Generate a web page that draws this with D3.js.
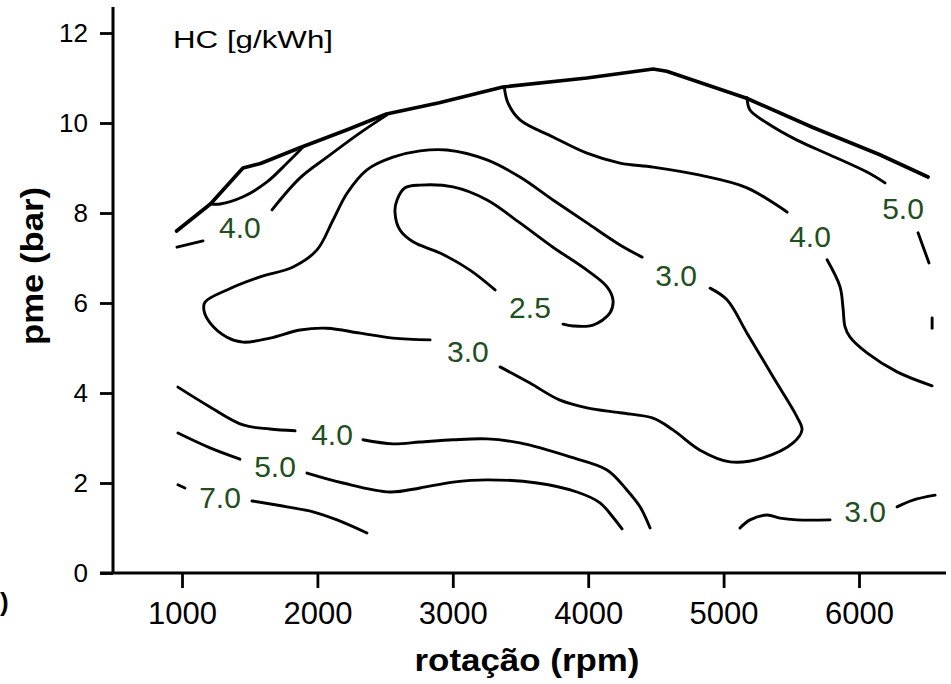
<!DOCTYPE html>
<html>
<head>
<meta charset="utf-8">
<script src="https://cdn.jsdelivr.net/npm/d3@7"></script>
<style>
  body { margin: 0; background: #fff; }
  svg { display: block; font-family: "Liberation Sans", Arial, sans-serif; }
</style>
</head>
<body>
<div id="chart"></div>
<script>
// ticks
const xTicks = [1000, 2000, 3000, 4000, 5000, 6000];
const yTicks = [0, 2, 4, 6, 8, 10, 12];

// full load line [rpm, pme]
const fullLoad = [[960,7.6],[1210,8.2],[1450,9.0],[1580,9.1],[1870,9.45],[2220,9.85],[2510,10.2],
  [2900,10.45],[3370,10.8],[3990,11.0],[4480,11.2],[4580,11.15],[5170,10.55],[5660,9.9],[6150,9.3],[6510,8.8]];

// contour pieces (broken where the labels sit)
const hc50Left = [[1210,8.2],[1281,8.2],[1451,8.36],[1628,8.69],[1776,9.11],[1872,9.4],[1894,9.47]];
const hc40LeftA = [[963,7.24],[1155,7.38]];
const hc40LeftB = [[1665,8.07],[1872,8.78],[2071,9.24],[2315,9.78],[2514,10.18]];
const hc30A = [[4398,7.02],[4235,7.29],[3991,7.78],[3740,8.29],[3496,8.8],[3253,9.18],[2957,9.4],[2758,9.38],
  [2558,9.24],[2366,8.96],[2219,8.44],[2115,7.84],[1997,7.18],[1820,6.8],[1576,6.58],[1332,6.29],[1170,6.02],
  [1162,5.84],[1207,5.56],[1332,5.24],[1451,5.13],[1650,5.22],[1872,5.4],[2071,5.44],[2315,5.33],[2558,5.22],[2832,5.18]];
const hc30B = [[3349,4.58],[3570,4.22],[3792,3.84],[3991,3.67],[4235,3.56],[4479,3.44],[4626,3.18],[4826,2.73],
  [5048,2.47],[5291,2.56],[5513,2.89],[5579,3.18],[5542,3.47],[5365,4.36],[5173,5.33],[5025,6.07],[4900,6.33]];
const hc25 = [[3814,5.53],[3888,5.49],[4036,5.51],[4161,5.78],[4183,6.07],[4139,6.36],[3991,6.73],[3740,7.24],
  [3496,7.78],[3253,8.29],[3002,8.58],[2758,8.62],[2647,8.56],[2588,8.29],[2573,8.02],[2610,7.62],[2706,7.36],
  [2906,7.11],[3127,6.73],[3312,6.29]];
const hc40RightA = [[3380,10.8],[3408,10.44],[3496,10.07],[3740,9.69],[3991,9.33],[4235,9.11],[4479,9.02],
  [4826,8.84],[5173,8.56],[5469,8.02]];
const hc40RightB = [[5764,6.96],[5860,6.36],[5882,5.89],[5897,5.47],[5934,5.24],[6059,4.89],[6281,4.47],[6540,4.16]];
const hc50RightA = [[5173,10.56],[5195,10.29],[5321,10.0],[5542,9.62],[5786,9.29],[6059,8.91],[6192,8.67]];
const hc50RightB = [[6436,7.56],[6517,6.89]];
const hc50RightC = [[6540,5.67],[6540,5.44]];
const hc40LowA = [[970,4.13],[1207,3.69],[1451,3.29],[1650,3.2],[1835,3.16]];
const hc40LowB = [[2337,2.96],[2558,2.87],[2758,2.91],[3002,2.96],[3253,2.98],[3496,2.89],[3866,2.58],
  [4139,2.29],[4287,1.84],[4383,1.47],[4457,1.0]];
const hc50LowA = [[970,3.11],[1207,2.78],[1428,2.53]];
const hc50LowB = [[1923,2.22],[2189,2.0],[2536,1.8],[2758,1.89],[3002,2.02],[3253,2.07],[3622,2.0],
  [3917,1.8],[4087,1.56],[4183,1.24],[4250,0.98]];
const hc70A = [[970,1.96],[1022,1.89]];
const hc70B = [[1517,1.6],[1776,1.47],[1968,1.36],[2145,1.18],[2366,0.89]];
const hc30LowA = [[5121,1.0],[5195,1.18],[5321,1.29],[5417,1.22],[5542,1.18],[5786,1.18]];
const hc30LowB = [[6281,1.47],[6399,1.62],[6562,1.73]];

// contour labels [rpm, pme, text]
const contourLabels = [[1428,7.69,"4.0"],[4649,6.62,"3.0"],[3112,4.93,"3.0"],[3570,5.91,"2.5"],
  [5638,7.49,"4.0"],[6325,8.11,"5.0"],[2108,3.09,"4.0"],[1687,2.38,"5.0"],[1281,1.69,"7.0"],[6045,1.38,"3.0"]];

const pieces = [hc50Left, hc40LeftA, hc40LeftB, hc30A, hc30B, hc25, hc40RightA, hc40RightB,
  hc50RightA, hc50RightB, hc50RightC, hc40LowA, hc40LowB, hc50LowA, hc50LowB, hc70A, hc70B, hc30LowA, hc30LowB];

const width = 951, height = 684;

const svg = d3.select("#chart")
  .append("svg")
  .attr("width", width)
  .attr("height", height);

const x = d3.scaleLinear().domain([1000, 6000]).range([182, 859]);
const y = d3.scaleLinear().domain([0, 12]).range([573, 33]);

const smooth = d3.line()
  .x(d => x(d[0]))
  .y(d => y(d[1]))
  .curve(d3.curveCatmullRom.alpha(0.5));

const straight = d3.line()
  .x(d => x(d[0]))
  .y(d => y(d[1]));

// axes
const yAxis = svg.append("g")
  .attr("transform", "translate(113,0)")
  .call(d3.axisLeft(y).tickValues(yTicks).tickSize(13).tickPadding(12));

const xAxis = svg.append("g")
  .attr("transform", "translate(0,573)")
  .call(d3.axisBottom(x).tickValues(xTicks).tickFormat(d3.format("d")).tickSize(15).tickPadding(14));

yAxis.select(".domain").remove();
xAxis.select(".domain").remove();
yAxis.selectAll("line").attr("stroke", "#000").attr("stroke-width", 2.8);
xAxis.selectAll("line").attr("stroke", "#000").attr("stroke-width", 2.8);
yAxis.selectAll("text").attr("font-size", 26).attr("fill", "#000")
  .attr("font-family", "'Liberation Sans', Arial, sans-serif");
xAxis.selectAll("text").attr("font-size", 31).attr("fill", "#000")
  .attr("font-family", "'Liberation Sans', Arial, sans-serif");

svg.append("line")
  .attr("x1", 113).attr("x2", 113).attr("y1", 7).attr("y2", 574)
  .attr("stroke", "#000").attr("stroke-width", 3);
svg.append("line")
  .attr("x1", 100).attr("x2", 946).attr("y1", 573).attr("y2", 573)
  .attr("stroke", "#000").attr("stroke-width", 3);

// full load line
svg.append("path")
  .attr("d", straight(fullLoad))
  .attr("fill", "none")
  .attr("stroke", "#000")
  .attr("stroke-width", 3.7)
  .attr("stroke-linejoin", "round")
  .attr("stroke-linecap", "round");

// contours
svg.append("g")
  .selectAll("path")
  .data(pieces)
  .enter().append("path")
  .attr("d", d => smooth(d))
  .attr("fill", "none")
  .attr("stroke", "#000")
  .attr("stroke-width", 2.9)
  .attr("stroke-linecap", "round");

svg.append("g")
  .selectAll("text")
  .data(contourLabels)
  .enter().append("text")
  .attr("x", d => x(d[0]))
  .attr("y", d => y(d[1]))
  .attr("dy", "0.36em")
  .attr("text-anchor", "middle")
  .attr("font-size", 30)
  .attr("fill", "#1f4f20")
  .text(d => d[2]);

// titles
svg.append("text")
  .attr("x", 173).attr("y", 48)
  .attr("font-size", 23)
  .attr("textLength", 160)
  .attr("lengthAdjust", "spacingAndGlyphs")
  .text("HC [g/kWh]");

svg.append("text")
  .attr("transform", "translate(43,266) rotate(-90)")
  .attr("text-anchor", "middle")
  .attr("font-size", 32)
  .attr("font-weight", "bold")
  .attr("textLength", 158)
  .attr("lengthAdjust", "spacingAndGlyphs")
  .text("pme (bar)");

svg.append("text")
  .attr("x", 527).attr("y", 671)
  .attr("text-anchor", "middle")
  .attr("font-size", 31)
  .attr("font-weight", "bold")
  .attr("textLength", 225)
  .attr("lengthAdjust", "spacingAndGlyphs")
  .text("rotação (rpm)");

svg.append("text")
  .attr("x", 0).attr("y", 611)
  .attr("font-size", 26)
  .attr("font-weight", "bold")
  .text(")");
</script>
</body>
</html>
